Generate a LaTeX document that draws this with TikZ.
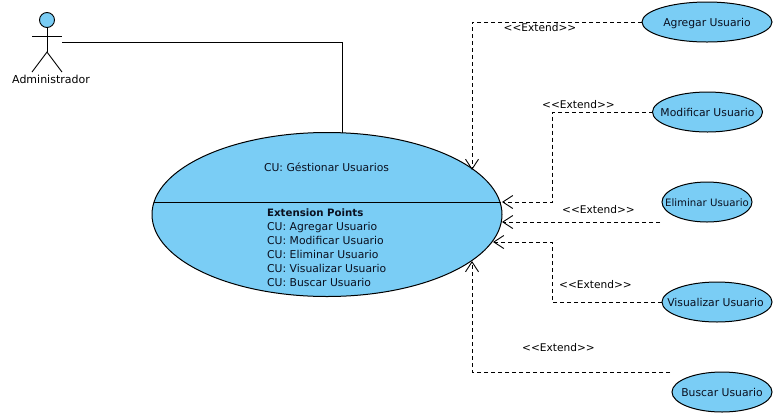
\documentclass[tikz,border=0pt]{standalone}
\usepackage{fontspec}
\setmainfont{DejaVu Sans}
\usetikzlibrary{shapes.geometric,arrows.meta}
\definecolor{ucfill}{HTML}{7ACDF5}
\definecolor{uctext}{HTML}{0A1020}
\newcommand{\uclabel}[1]{\makebox[0pt][c]{\raisebox{-4pt}[0pt][0pt]{#1}}}
\tikzset{
  uc/.style={ellipse,draw=black,fill=ucfill,line width=1pt,inner sep=0pt,outer sep=0pt,text=uctext,font=\fontsize{10.8}{12}\selectfont},
  lbl/.style={inner sep=0pt,text=black,font=\fontsize{10.6}{12}\selectfont},
  ext/.style={dashed,dash pattern=on 4pt off 3pt,line width=.9pt,-{Straight Barb[length=10pt,width=13pt,line width=.9pt]}},
  assoc/.style={line width=1pt},
  stick/.style={line width=.9pt}
}
\begin{document}
\begin{tikzpicture}[x=1pt,y=-1pt]
\useasboundingbox[fill=white] (0,0) rectangle (776,416);
% use cases
\node[uc,minimum width=350pt,minimum height=164pt] (main) at (327,214.5) {};
\node[uc,minimum width=130pt,minimum height=40pt] (agregar) at (707,22) {\uclabel{Agregar Usuario}};
\node[uc,minimum width=110pt,minimum height=40pt] (modificar) at (707.5,112) {\uclabel{Modificar Usuario}};
\node[uc,minimum width=90pt,minimum height=40pt,font=\fontsize{10.2}{12}\selectfont] (eliminar) at (707,202) {\uclabel{Eliminar Usuario}};
\node[uc,minimum width=110pt,minimum height=40pt] (visualizar) at (717,302) {\uclabel{Visualizar Usuario\hspace{3pt}}};
\node[uc,minimum width=100pt,minimum height=40pt] (buscar) at (722,392) {\uclabel{Buscar Usuario}};
% divider and main use case text
\coordinate (divL) at (153.5,202);
\coordinate (divR) at (501,202);
\draw[line width=1pt] (divL) -- (divR);
\node[lbl,text=uctext,font=\fontsize{10.8}{12}\selectfont] (title) at (326.5,167) {CU: Géstionar Usuarios};
\node[lbl,text=uctext,anchor=north west,align=left,font=\fontsize{10.8}{14}\selectfont] (points) at (267,209)
  {{\fontsize{10.2}{14}\selectfont\textbf{Extension Points}}\\CU: Agregar Usuario\\CU: Modificar Usuario\\CU: Eliminar Usuario\\CU: Visualizar Usuario\\CU: Buscar Usuario};
% actor
\node[circle,draw=black,fill=ucfill,line width=.9pt,minimum size=15pt,inner sep=0pt,outer sep=0pt] (head) at (47,20) {};
\coordinate (hip) at (47,52);
\coordinate (armL) at (32,36);
\coordinate (armR) at (62,36);
\coordinate (footL) at (32,72);
\coordinate (footR) at (62,72);
\draw[stick] (head.south) -- (hip);
\draw[stick] (armL) -- (armR);
\draw[stick] (footL) -- (hip) -- (footR);
\node[lbl,font=\fontsize{11}{12}\selectfont] (actor) at (51,79.5) {Administrador};
% association
\coordinate (actorEnd) at (62,42);
\draw[assoc] (actorEnd) -| (main.north -| 342,132);
% extend connectors
\coordinate (tA) at (472,170);
\coordinate (tM) at (502,202);
\coordinate (tE) at (502,222);
\coordinate (tV) at (493,242);
\coordinate (tB) at (472,261);
\coordinate (sE) at (660,222);
\coordinate (sB) at (670,372);
\draw[ext] (agregar.west) -- (472,22) -- (tA);
\draw[ext] (modificar.west) -- (552,112) -- (552,202) -- (tM);
\draw[ext] (sE) -- (tE);
\draw[ext] (visualizar.west) -- (552,302) -- (552,242) -- (tV);
\draw[ext] (sB) -- (472,372) -- (tB);
% labels
\node[lbl] (e1) at (540,27.7) {<{}<Extend>{}>};
\node[lbl] (e2) at (578.5,104.7) {<{}<Extend>{}>};
\node[lbl] (e3) at (598.5,209.7) {<{}<Extend>{}>};
\node[lbl] (e4) at (595.5,284.7) {<{}<Extend>{}>};
\node[lbl] (e5) at (558.5,347.7) {<{}<Extend>{}>};
\end{tikzpicture}
\end{document}
